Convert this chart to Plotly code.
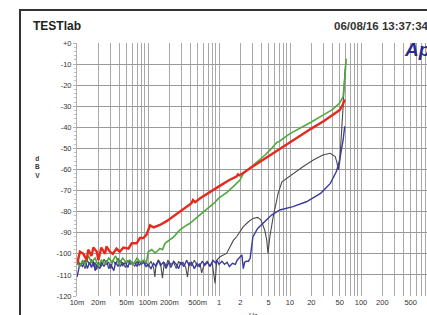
import plotly.graph_objects as go

# ---------------- data ----------------
red_f = [0.0100, 0.0110, 0.0123, 0.0137, 0.0144, 0.0160, 0.0170, 0.0190, 0.0200, 0.0220,
         0.0248, 0.0260, 0.0290, 0.0320, 0.0360, 0.0400, 0.0450, 0.0530, 0.0590, 0.0690,
         0.0770, 0.0860, 0.0950, 0.107, 0.120, 0.147, 0.183, 0.22, 0.27, 0.33,
         0.41, 0.43, 0.46, 0.55, 0.75, 1.0, 1.4, 1.78, 1.85, 1.95,
         2.7, 4.0, 7.2, 10, 20, 30, 40, 50, 55, 59]
red_db = [-105, -99, -100, -103, -98, -101, -97, -99, -103, -97,
          -100, -96.5, -99, -100, -97.5, -99, -97, -97.5, -95, -95,
          -92.5, -92.5, -91, -86.5, -87.5, -86.3, -84.5, -82.5, -80.5, -78.5,
          -76, -74.5, -75.5, -73.5, -70.5, -68, -65, -63.2, -62.3, -62.8,
          -59.5, -55.8, -50, -47, -40.6, -37, -34, -31.8, -29.5, -26.8]

green_f = [0.010, 0.011, 0.012, 0.013, 0.0145, 0.016, 0.018, 0.020, 0.022, 0.025,
           0.028, 0.031, 0.035, 0.039, 0.044, 0.049, 0.055, 0.062, 0.070, 0.078,
           0.088, 0.095, 0.101, 0.113, 0.125, 0.133, 0.147, 0.160, 0.174, 0.203,
           0.23, 0.254, 0.28, 0.33, 0.39, 0.48, 0.54, 0.67, 0.85, 1.0,
           1.28, 1.6, 1.97, 2.2, 2.7, 3.5, 4.5, 5.5, 6.6, 7.0,
           7.6, 10, 15, 20, 30, 40, 50, 56, 58, 60, 62]
green_db = [-104, -106, -103, -105, -101, -104, -102, -106, -103, -105,
            -102, -104, -101, -105, -102, -104, -103, -105, -102, -104,
            -103, -104, -99, -98, -99.5, -99, -97.5, -98, -95, -93.5,
            -92, -90.3, -88.7, -87, -85.5, -83, -81.6, -79, -76, -73.5,
            -71, -68, -65, -62, -59.5, -56, -53, -50, -47, -46.8,
            -45.8, -43, -40, -37.5, -34, -31.5, -28.5, -25.5, -20, -14, -7.5]

blue_f = [0.010, 0.0105, 0.011, 0.012, 0.013, 0.014, 0.015, 0.016, 0.017, 0.018,
          0.019, 0.021, 0.022, 0.024, 0.026, 0.028, 0.030, 0.033, 0.035, 0.038,
          0.041, 0.044, 0.048, 0.052, 0.056, 0.060, 0.065, 0.070, 0.075, 0.080,
          0.087, 0.094, 0.100, 0.110, 0.120, 0.130, 0.140, 0.150, 0.165, 0.180,
          0.195, 0.21, 0.23, 0.25, 0.27, 0.29, 0.32, 0.35, 0.38, 0.41,
          0.45, 0.49, 0.53, 0.58, 0.63, 0.69, 0.75, 0.82, 0.90, 0.93,
          1.0, 1.1, 1.2, 1.3, 1.4, 1.55, 1.7, 1.8, 1.95, 2.1,
          2.2, 2.3, 2.45, 2.6, 2.75, 3.0, 3.5, 4.4, 5.5, 7.2,
          11, 17, 27, 37, 45, 50, 53, 56, 59]
blue_db = [-111, -107, -104.5, -106, -103, -107, -104, -106.5, -103.5, -108,
           -105, -107, -104, -106, -103, -107, -105, -108, -104, -106,
           -103, -105.5, -104, -106.5, -103, -105, -104, -106, -103.5, -105,
           -104, -106, -105, -107, -104.5, -106, -103, -105.5, -104, -107,
           -104, -106.5, -103.5, -105, -107, -104, -106, -103, -105.5, -104,
           -107, -104.5, -106, -103.5, -105.5, -104, -106, -103, -104.5, -103,
           -105, -103.5, -105, -104, -106, -104.5, -105, -103, -101.5, -100.5,
           -107, -104, -103.5, -103.5, -102, -92, -88, -84.8, -81.6, -79.2,
           -77.6, -75.3, -71.3, -66.6, -61, -55.5, -51, -46, -39.5]

black_f = [0.010, 0.0105, 0.011, 0.012, 0.013, 0.014, 0.015, 0.016, 0.017, 0.018,
           0.019, 0.020, 0.022, 0.024, 0.026, 0.028, 0.030, 0.032, 0.035, 0.038,
           0.041, 0.044, 0.048, 0.052, 0.056, 0.060, 0.065, 0.070, 0.075, 0.080,
           0.085, 0.090, 0.095, 0.100, 0.110, 0.120, 0.125, 0.130, 0.140, 0.150,
           0.160, 0.170, 0.180, 0.190, 0.21, 0.23, 0.25, 0.27, 0.29, 0.31,
           0.34, 0.36, 0.38, 0.41, 0.45, 0.50, 0.54, 0.57, 0.62, 0.68,
           0.74, 0.80, 0.88, 0.93, 1.03, 1.28, 1.42, 1.6, 1.77, 1.97,
           2.2, 2.6, 3.0, 3.5, 3.9, 4.4, 4.7, 4.9, 5.2, 5.8,
           6.8, 7.7, 11.1, 15.2, 21.3, 29, 36.7, 43.3, 45.5, 48,
           50, 53, 56, 59, 61]
black_db = [-105, -103, -106, -104, -107, -103, -105, -102.5, -106, -104,
            -107.5, -104, -106, -102.5, -105, -104, -107, -103, -105, -102,
            -106, -104, -106.5, -103, -105, -104, -106, -103.5, -105.5, -104,
            -103, -105, -104, -106, -103.5, -106.5, -111, -105, -103, -104.5,
            -111.5, -104, -106, -103, -105, -104, -107, -103.5, -105, -104,
            -106.5, -111, -104, -105.5, -103, -106, -104.5, -109, -105, -103.5,
            -106, -104, -114, -103, -101.4, -99.8, -96.6, -93.5, -91.9, -89.5,
            -87.1, -84.8, -83.2, -82.7, -84, -88.7, -93.4, -99.8, -91.9, -82.4,
            -71.3, -65.8, -61.8, -58.7, -55.5, -53.1, -52.3, -53.9, -56.3, -60.2,
            -57, -45, -30, -15, -9]

x_tick_vals = [0.01, 0.02, 0.05, 0.1, 0.2, 0.5, 1, 2, 5, 10, 20, 50, 100, 200, 500, 1000]
x_tick_text = ["10m", "20m", "50m", "100m", "200m", "500m", "1", "2", "5", "10",
               "20", "50", "100", "200", "500", "1k"]
y_tick_vals = [0, -10, -20, -30, -40, -50, -60, -70, -80, -90, -100, -110, -120]
y_tick_text = ["+0", "-10", "-20", "-30", "-40", "-50", "-60", "-70", "-80", "-90",
               "-100", "-110", "-120"]

# ---------------- figure ----------------
W, H = 427, 315
L, T, B, R = 77, 43, 19, 0
pw, ph = W - L - R, H - T - B


def px(x):
    return (x - L) / pw


def py(y):
    return (H - B - y) / ph


# grid values 1..9 per decade, labels only at the tick values
grid_vals = []
for e in range(-2, 3):
    for m in range(1, 10):
        grid_vals.append(m * 10 ** e)
grid_vals.append(1000)
grid_text = []
for v in grid_vals:
    lab = ""
    for tv, tt in zip(x_tick_vals, x_tick_text):
        if abs(v - tv) / tv < 1e-6:
            lab = tt
    grid_text.append(lab)

fig = go.Figure()
fig.add_trace(go.Scatter(x=black_f, y=black_db, mode="lines",
                         line=dict(color="#4a4a4a", width=1.1), showlegend=False))
fig.add_trace(go.Scatter(x=blue_f, y=blue_db, mode="lines",
                         line=dict(color="#3b3b9e", width=1.4), showlegend=False))
fig.add_trace(go.Scatter(x=green_f, y=green_db, mode="lines",
                         line=dict(color="#4fa83d", width=1.6), showlegend=False))
fig.add_trace(go.Scatter(x=red_f, y=red_db, mode="lines",
                         line=dict(color="#e52a1e", width=2.4), showlegend=False))

fig.update_layout(
    width=W, height=H, autosize=False,
    margin=dict(l=L, r=R, t=T, b=B, pad=0),
    paper_bgcolor="white", plot_bgcolor="white",
    font=dict(family="Liberation Sans, Arial, sans-serif", size=8, color="#333333"),
    xaxis=dict(type="log", range=[-2, -2 + pw / 71.0],
               tickmode="array", tickvals=grid_vals, ticktext=grid_text,
               showgrid=True, gridcolor="#a8a8a8", gridwidth=1,
               zeroline=False, showline=False, ticks="",
               tickfont=dict(size=7.5, color="#333333"), ticklabeloverflow="allow"),
    yaxis=dict(range=[-120, 0], tickmode="array", tickvals=y_tick_vals, ticktext=y_tick_text,
               showgrid=True, gridcolor="#9a9a9a", gridwidth=1,
               zeroline=False, showline=True, linecolor="#b0b0b0", linewidth=1,
               ticks="outside", ticklen=3, tickcolor="#b0b0b0",
               minor=dict(dtick=2, ticks="outside", ticklen=2, tickcolor="#c0c0c0"),
               tickfont=dict(size=7.5, color="#333333")),
)

fig.add_shape(type="rect", xref="paper", yref="paper",
              x0=px(20), x1=1.3, y0=-0.4, y1=py(10),
              line=dict(color="#333333", width=2), fillcolor="rgba(0,0,0,0)", layer="above")

fig.add_annotation(text="<b>TESTlab</b>", xref="paper", yref="paper",
                   x=px(31), y=py(26), xanchor="left", yanchor="middle", showarrow=False,
                   font=dict(size=12, color="#222222", family="Liberation Sans, Arial"))
fig.add_annotation(text="<b>06/08/16 13:37:34</b>", xref="paper", yref="paper",
                   x=px(332), y=py(26), xanchor="left", yanchor="middle", showarrow=False,
                   font=dict(size=11.5, color="#333333", family="Liberation Sans, Arial"))
fig.add_annotation(text="<b><i>Ap</i></b>", xref="paper", yref="paper",
                   x=px(402), y=py(50), xanchor="left", yanchor="middle", showarrow=False,
                   font=dict(size=19, color="#2a2a8c", family="Liberation Sans, Arial"))
fig.add_annotation(text="<b>d<br>B<br>V</b>", xref="paper", yref="paper",
                   x=px(37), y=py(167), xanchor="center", yanchor="middle", showarrow=False,
                   font=dict(size=6.5, color="#333333"))
fig.add_annotation(text="Hz", xref="paper", yref="paper",
                   x=px(253), y=py(310), xanchor="center", yanchor="top", showarrow=False,
                   font=dict(size=7, color="#333333"))

fig.write_html("out.html",
               config={"displayModeBar": False, "staticPlot": True},
               post_script="document.body.style.margin='0px';document.body.style.overflow='hidden';")
